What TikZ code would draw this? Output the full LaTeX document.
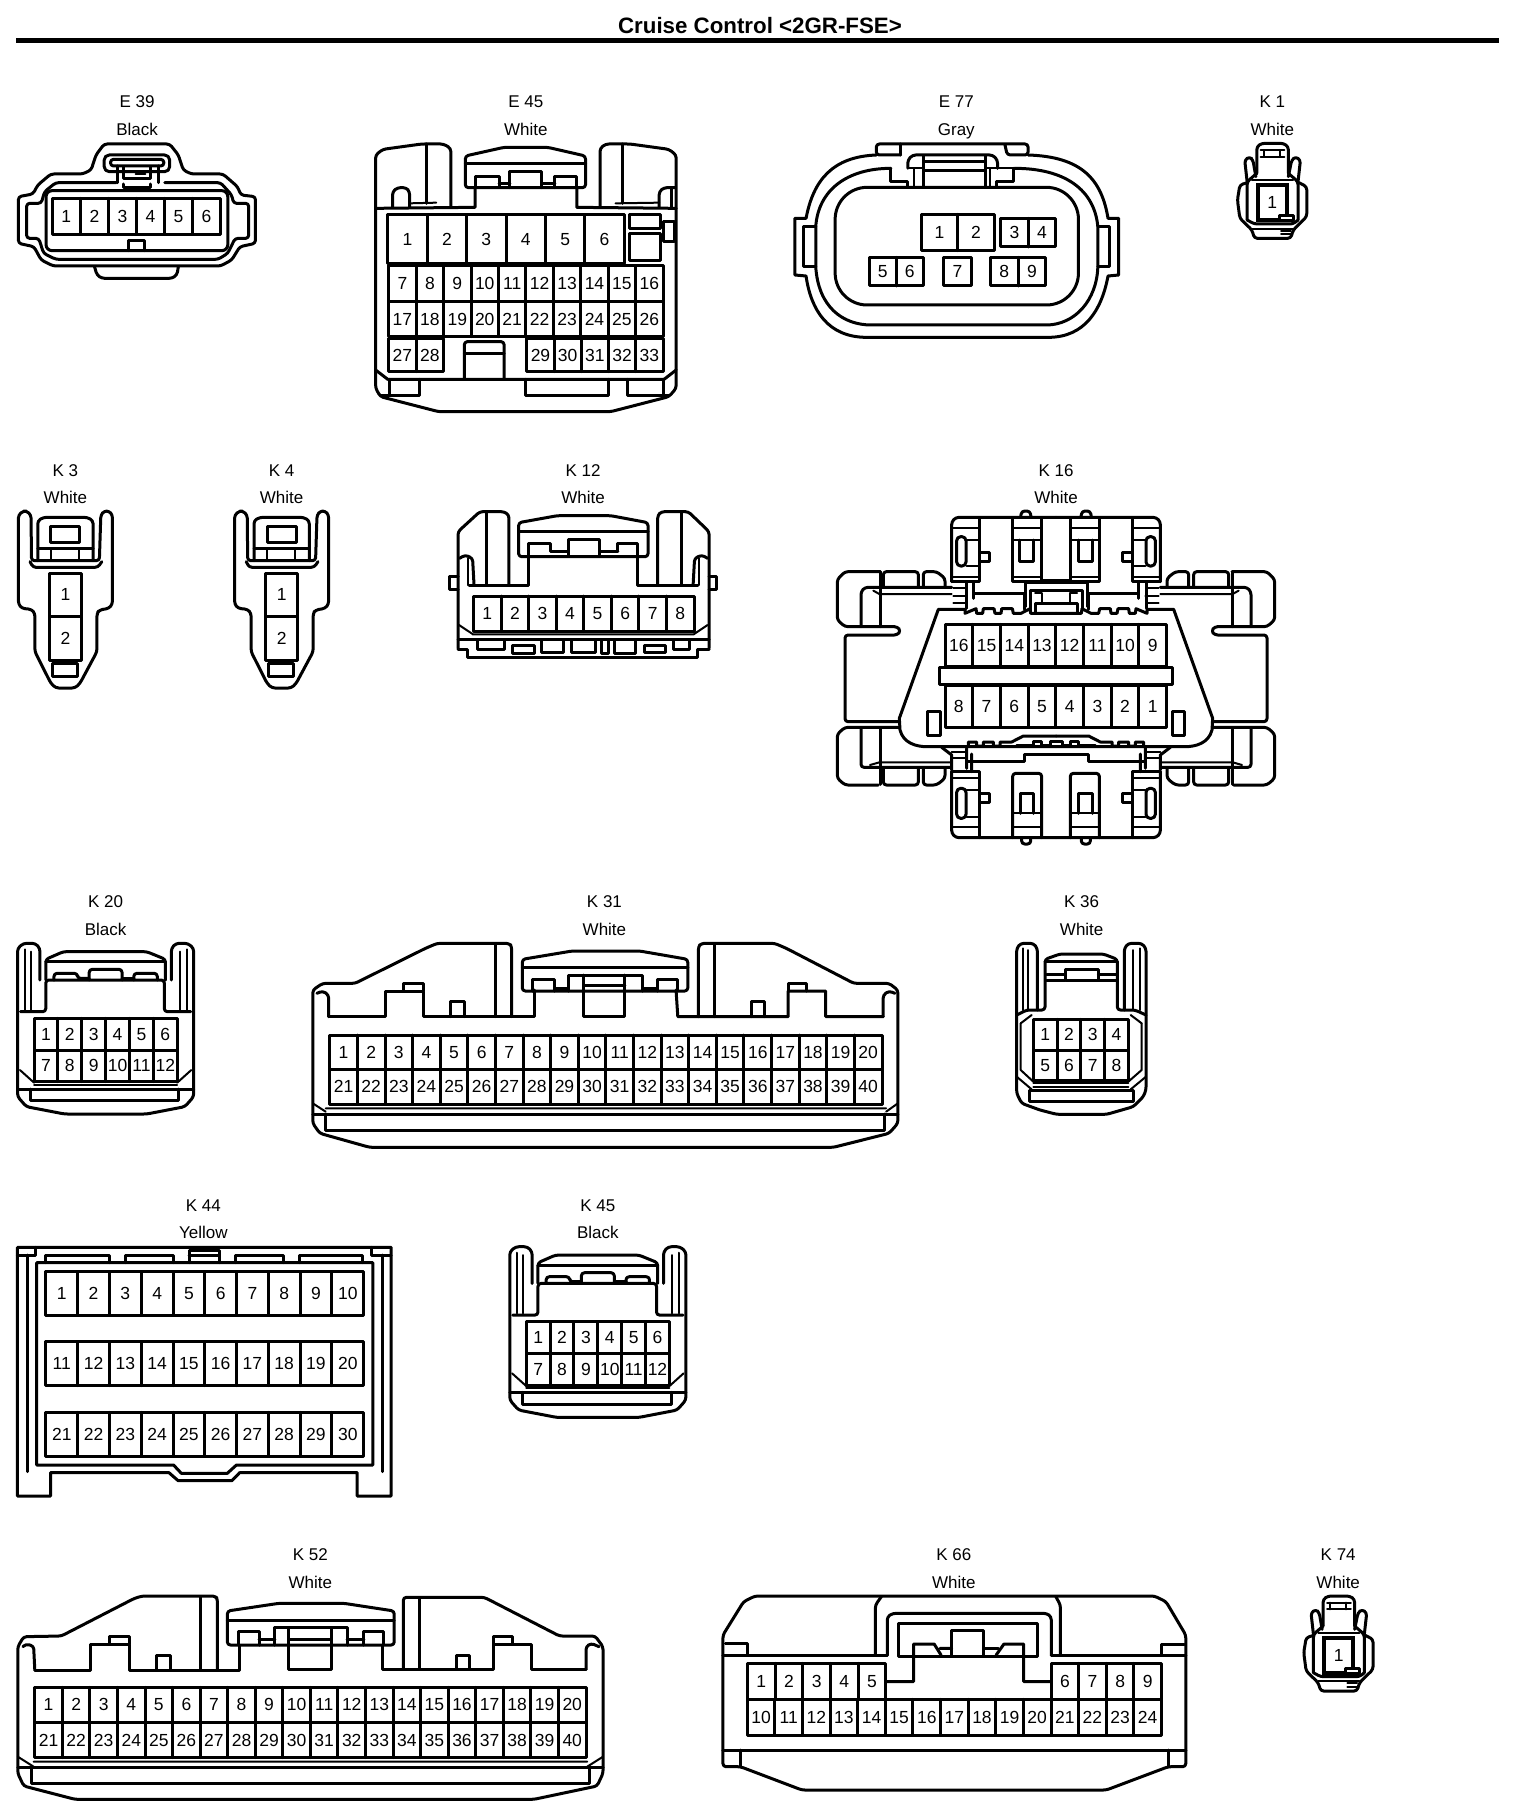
\documentclass[tikz,border=0pt]{standalone}
\usepackage{fontspec}
\setmainfont{Liberation Sans}
\tikzset{
  zv/.style n args={3}{x=#1pt,y=-0.33333pt,shift={(#2pt,-#3pt)}},
  cl/.style={line width=3pt,line join=round,line cap=round},
  thn/.style={line width=2pt,line join=round,line cap=round},
  rc/.style={cl,rounded corners=3pt},
  pinnum/.style={font=\fontsize{17.5}{18}\selectfont,inner sep=0pt},
  lab/.style={font=\fontsize{17}{18}\selectfont,inner sep=0pt,anchor=base,yshift=-6pt}
}
\newcommand{\pinrow}[8]{%
  \draw[cl] (#2,#4) rectangle (#3,#5);
  \foreach \i in {1,...,#6}{%
    \pgfmathsetmacro\pxa{#2+(#3-#2)/#6*(\i-1)}%
    \pgfmathsetmacro\pxb{#2+(#3-#2)/#6*\i}%
    \pgfmathsetmacro\pxc{(\pxa+\pxb)/2}%
    \pgfmathsetmacro\pyc{(#4+#5)/2}%
    \pgfmathtruncatemacro\pnum{#7+(\i-1)*(#8)}%
    \ifnum\i<#6 \draw[cl] (\pxb,#4) -- (\pxb,#5);\fi
    \node[pinnum] (#1-\pnum) at (\pxc,\pyc) {\pnum};
  }}
\newcommand{\cnlabel}[5]{%
  \node[lab] (#1-code) at (#2,#3) {#4};
  \node[lab] (#1-colour) at (#2,#3+83) {#5};}
% K1 / K74 body (zoom 2 units)
\newcommand{\koneshape}[1]{%
  \draw[rc] (1025,520)--(1025,440)--(1035,430)--(1080,430)--(1090,440)--(1090,520);
  \draw[thn] (1033,450)--(1082,450) (1033,470)--(1082,470) (1040,450)--(1040,470) (1073,450)--(1073,470);
  \draw[rc] (1025,520)--(1005,545)--(1005,660);
  \draw[rc] (1090,520)--(1110,545)--(1110,660);
  \draw[rc] (1005,545)--(1000,480)--(1010,470)--(1017,480)--(1023,530);
  \draw[rc] (1110,545)--(1115,480)--(1105,470)--(1097,480)--(1090,530);
  \draw[rc] (1005,548)--(990,555)--(985,600)--(990,655)--(1015,690)--(1020,715)--(1095,715)--(1100,690)--(1128,650)--(1128,560)--(1112,548);
  \draw[rc] (1005,660)--(1020,672)--(1100,672)--(1110,660);
  \draw[thn] (1015,540)--(1100,540);
  \pinrow{#1}{1027}{1087}{555}{660}{1}{1}{1}
  \draw[line width=3.6pt] (1027,555) rectangle (1087,660);
  \draw[cl,fill=white] (1072,648) rectangle (1100,662);
  \draw[thn] (1015,686)--(1100,686) (1075,692)--(1095,692) (1075,703)--(1095,703);
}
% K3 / K4 body (zoom 3 units)
\newcommand{\kthreeshape}[1]{%
  \draw[rc] (38,195)--(48,183)--(55,183)--(64,195)--(65,332)--(205,332)--(208,195)--(215,183)--(225,183)--(232,195)--(232,462)--(225,475)--(205,480)--(200,490)--(200,605)--(165,700)--(155,714)--(115,714)--(105,700)--(72,605)--(72,490)--(65,478)--(45,475)--(38,462)--cycle;
  \draw[rc] (62,335)--(68,352)--(202,352)--(210,335);
  \draw[rc] (78,332)--(78,212)--(90,202)--(180,202)--(192,212)--(192,332);
  \draw[cl] (78,295)--(192,295);
  \draw[thn] (105,300)--(105,330) (163,300)--(163,330);
  \draw[cl] (105,228) rectangle (165,278);
  \pinrow{#1}{102}{168}{370}{498}{1}{1}{1}
  \pinrow{#1}{102}{168}{498}{630}{1}{2}{1}
  \draw[cl] (108,640) rectangle (160,678);
}
% K20 / K45 body (zoom 5 units)
\newcommand{\ktwentyshape}[1]{%
  \draw[rc] (68,270)--(68,175)--(60,160)--(40,160)--(30,175)--(30,620)--(45,650)--(110,672)--(250,672)--(315,650)--(330,620)--(330,175)--(320,160)--(300,160)--(292,175)--(292,270);
  \draw[thn] (42,178)--(42,360) (52,185)--(52,360) (318,178)--(318,360) (306,185)--(306,360);
  \draw[rc] (35,365)--(78,365)--(78,270)--(280,270)--(280,365)--(325,365);
  \draw[rc] (78,270)--(78,208)--(108,185)--(250,185)--(282,208)--(282,270);
  \draw[cl] (78,215)--(282,215);
  \draw[rc] (92,270)--(92,250)--(132,250)--(132,265)--(152,265);
  \draw[rc] (152,270)--(152,238)--(208,238)--(208,270);
  \draw[rc] (208,265)--(228,265);
  \draw[rc] (228,270)--(228,250)--(268,250)--(268,270);
  \pinrow{#1}{58}{302}{385}{480}{6}{1}{1}
  \pinrow{#1}{58}{302}{480}{575}{6}{7}{1}
  \draw[thn] (34,540)--(58,578) (326,540)--(302,578);
  \draw[thn] (58,584)--(302,584);
  \draw[cl] (30,597)--(330,597);
  \draw[cl] (52,597)--(52,632)--(305,632)--(305,597);
}
% K16 left half (zoom 4 units)
\newcommand{\ksixteenhalf}{%
  \draw[rc] (180,365)--(75,365)--(52,388)--(52,510)--(75,530)--(232,530)--(242,543)--(232,555)--(75,555)--(75,815)--(238,815);
  \draw[cl] (180,365)--(180,530);
  \draw[rc] (190,408)--(190,365)--(295,365)--(295,408);
  \draw[rc] (310,408)--(310,365)--(350,365)--(375,385)--(375,408);
  \draw[rc] (123,530)--(123,425)--(135,412)--(395,412);
  \draw[thn] (160,422)--(178,432)--(395,432);
  \draw[rc] (238,832)--(75,832)--(52,852)--(52,985)--(75,1005)--(175,1005);
  \draw[cl] (180,835)--(180,1003);
  \draw[rc] (190,955)--(190,1005)--(295,1005)--(295,955);
  \draw[rc] (310,955)--(310,1005)--(350,1005)--(375,985)--(375,955);
  \draw[rc] (123,835)--(123,952)--(390,952);
  \draw[thn] (150,945)--(178,937)--(390,937);
  % upper clips
  \draw[rc] (395,395)--(395,215)--(408,202)--(708,202);
  \draw[cl] (478,205)--(478,395)--(395,395);
  \draw[thn] (400,235)--(475,235) (400,380)--(478,380) (440,270)--(478,270) (440,348)--(478,348);
  \draw[cl,rounded corners=4pt] (410,260) rectangle (438,348);
  \draw[cl] (478,308) rectangle (508,335);
  \draw[cl] (578,205)--(578,395)--(665,395)--(665,205);
  \draw[thn] (578,235)--(665,235) (578,270)--(665,270) (578,380)--(665,380);
  \draw[cl] (598,270)--(598,335)--(640,335)--(640,270);
  \draw[cl] (665,390)--(708,390);
  \draw[rc] (602,200)--(605,183)--(630,183)--(633,200);
  % junction
  \draw[thn] (400,415)--(438,415) (400,437)--(440,437) (400,460)--(438,460);
  \draw[cl] (438,397)--(438,475) (460,397)--(460,445);
  \draw[cl] (462,430)--(612,430)--(612,478) (615,397)--(615,470);
  \draw[thn] (615,400)--(708,400);
  \draw[cl] (630,480)--(630,420)--(708,420);
  \draw[thn] (645,430)--(665,430)--(665,460);
  \draw[cl] (645,490)--(645,460)--(708,460);
  % body
  \draw[cl] (708,490)--(632,490)--(630,476)--(603,490)--(580,490)--(577,476)--(545,476)--(543,490)--(525,490)--(522,476)--(490,476)--(488,490)--(470,490)--(468,476)--(435,490)--(435,478)--(355,478)--(238,805)--(240,840) .. controls (250,880) and (290,890) .. (320,890)--(708,890);
  \draw[cl] (445,888)--(445,876)--(470,876)--(470,888)--(490,888)--(490,876)--(520,876)--(520,888)--(540,888)--(540,876)--(575,876)--(610,858)--(708,858);
  \draw[cl] (590,885)--(640,885)--(640,875)--(665,875)--(665,885)--(690,885)--(690,875)--(708,875);
  % lower junction
  \draw[thn] (395,905)--(440,905) (400,925)--(440,925);
  \draw[cl] (440,895)--(440,955) (365,892)--(395,915)--(395,960) (455,912)--(455,965);
  \draw[cl] (440,935)--(612,935)--(612,912)--(708,912);
  % lower clips
  \draw[rc] (395,965)--(395,1150)--(408,1163)--(708,1163);
  \draw[cl] (395,965)--(478,965)--(478,1163);
  \draw[thn] (400,985)--(475,985) (400,1130)--(478,1130) (440,1020)--(478,1020) (440,1100)--(478,1100);
  \draw[cl,rounded corners=4pt] (410,1015) rectangle (438,1105);
  \draw[cl] (478,1030) rectangle (508,1057);
  \draw[rc] (578,1163)--(578,970)--(665,970)--(665,1163);
  \draw[thn] (578,1090)--(665,1090) (578,1130)--(665,1130);
  \draw[cl] (600,1090)--(600,1030)--(640,1030)--(640,1090);
  \draw[rc] (605,1165)--(605,1182)--(632,1182)--(632,1165);
  \draw[cl] (322,785) rectangle (360,855);
}
\begin{document}
\begin{tikzpicture}[x=1pt,y=1pt]
\useasboundingbox (0,0) rectangle (1520,-1820);
\fill[white] (0,0) rectangle (1520,-1820);
\node[font=\fontsize{22.3}{23}\selectfont\bfseries,inner sep=0pt,anchor=base] (title) at (760,-33.3) {Cruise Control <2GR-FSE>};
\coordinate (ruleL) at (16,-40);
\coordinate (ruleR) at (1499,-40);
\draw[line width=5pt] (ruleL) -- (ruleR);

% ---------- E39 ----------
\begin{scope}[zv={.4847}{0}{0}]
\cnlabel{e39}{283}{305}{E 39}{Black}
\draw[rc] (215,432)--(350,432)--(368,465)--(378,510)--(395,522)--(460,522)--(490,560)--(497,585)--(527,590)--(527,730)--(495,740)--(478,780)--(455,798)--(110,798)--(85,780)--(70,740)--(38,730)--(38,590)--(68,582)--(78,555)--(105,522)--(170,522)--(188,510)--(198,465)--cycle;
\draw[rc] (340,548)--(455,548)--(478,585)--(482,610)--(513,610)--(513,715)--(485,715)--(470,760)--(450,778)--(115,778)--(90,760)--(80,715)--(55,715)--(55,610)--(85,610)--(92,575)--(115,548)--(240,548);
\draw[cl,rounded corners=6pt] (95,572) rectangle (470,752);
\pinrow{e39}{108}{455}{595}{703}{6}{1}{1}
\draw[cl] (265,752)--(265,722)--(298,722)--(298,752);
\draw[rc] (195,800)--(200,825)--(210,835)--(355,835)--(365,825)--(368,800);
\draw[cl,rounded corners=5pt] (215,465) rectangle (350,515);
\draw[cl,rounded corners=3pt] (228,478) rectangle (338,498);
\draw[cl] (243,498)--(243,548) (328,498)--(328,548);
\draw[cl] (255,500)--(255,535)--(310,535)--(310,500);
\draw[thn] (280,522)--(300,522);
\draw[cl] (255,552)--(255,562)--(310,562)--(310,552);

% ---------- E45 ----------
\cnlabel{e45}{1085}{305}{E 45}{White}
\draw[rc] (930,622)--(930,445)--(915,432)--(870,432)--(790,448)--(775,465)--(775,1165)--(785,1190)--(905,1235)--(1260,1235)--(1380,1190)--(1395,1165)--(1395,465)--(1380,448)--(1300,432)--(1250,432)--(1238,445)--(1238,622);
\draw[cl] (775,625)--(980,622)--(980,565) (1190,565)--(1190,622)--(1395,625);
\draw[cl] (880,432)--(880,610) (1285,432)--(1285,610);
\draw[rc] (960,563)--(960,468)--(1040,442)--(1130,442)--(1208,468)--(1208,563)--(1190,563)--(980,563)--cycle;
\draw[cl] (960,490)--(1208,490);
\draw[cl] (980,563)--(980,530)--(1030,530)--(1030,560) (1030,552)--(1052,552);
\draw[cl] (1052,563)--(1052,515)--(1118,515)--(1118,563) (1118,552)--(1145,552);
\draw[cl] (1145,563)--(1145,530)--(1190,530)--(1190,563);
\draw[rc] (810,622)--(810,575)--(820,563)--(838,563)--(845,575)--(845,622);
\draw[thn] (845,610)--(900,608) (1270,610)--(1360,608);
\draw[rc] (1360,622)--(1360,575)--(1370,563)--(1392,563);
\draw[cl] (1385,565)--(1385,622);
\pinrow{e45a}{800}{1288}{645}{790}{6}{1}{1}
\draw[cl] (1298,645) rectangle (1362,685);
\draw[cl] (1298,700) rectangle (1362,783);
\draw[cl] (1368,665) rectangle (1392,725);
\pinrow{e45b}{802}{1368}{797}{905}{10}{7}{1}
\pinrow{e45c}{802}{1368}{905}{1010}{10}{17}{1}
\pinrow{e45d}{802}{915}{1015}{1115}{2}{27}{1}
\pinrow{e45e}{1087}{1368}{1015}{1115}{5}{29}{1}
\draw[rc] (958,1135)--(958,1025)--(1040,1025)--(1040,1135);
\draw[cl] (958,1060)--(1040,1060);
\draw[cl] (775,1110)--(800,1138)--(1370,1138)--(1395,1110);
\draw[cl] (866,1138)--(866,1187)--(785,1187) (803,1138)--(803,1187);
\draw[cl] (1295,1138)--(1295,1187)--(1380,1187) (1368,1138)--(1368,1187);
\draw[cl] (1085,1138)--(1085,1187)--(1255,1187)--(1255,1138);
\end{scope}

% ---------- E77 ----------
\begin{scope}[zv={.4847}{760}{0}]
\cnlabel{e77}{405}{305}{E 77}{Gray}
\draw[rc] (290,465)--(240,465)--(240,432)--(553,432)--(553,465)--(510,465)--(505,432);
\draw[cl] (290,432)--(290,465);
\draw[cl] (240,465) .. controls (150,470) and (110,540) .. (95,655) -- (72,655) -- (72,825) -- (95,828) .. controls (105,930) and (140,1012) .. (220,1012) -- (595,1012) .. controls (670,1012) and (705,930) .. (718,828) -- (740,825) -- (740,655) -- (718,655) .. controls (705,540) and (665,470) .. (553,465);
\draw[cl] (270,505) .. controls (180,505) and (120,570) .. (115,680) -- (115,800) .. controls (120,920) and (170,975) .. (230,975) -- (590,975) .. controls (650,975) and (695,900) .. (697,800) -- (697,680) .. controls (690,570) and (630,505) .. (525,505);
\draw[cl] (115,680)--(90,680)--(90,800)--(115,800);
\draw[cl] (697,680)--(722,680)--(722,800)--(697,800);
\draw[cl,rounded corners=32pt] (155,562) rectangle (657,915);
\draw[rc] (305,505)--(305,480)--(315,465)--(480,465)--(490,480)--(490,505);
\draw[cl] (338,468)--(338,560) (465,468)--(465,560) (338,485)--(465,485);
\draw[cl] (338,512)--(465,512);
\draw[cl] (270,505)--(270,545)--(305,545)--(305,560) (522,505)--(522,545)--(488,545)--(488,560);
\draw[thn] (318,505)--(318,560) (475,505)--(475,560) (305,505)--(338,505) (465,505)--(522,505);
\pinrow{e77a}{333}{483}{643}{752}{2}{1}{1}
\pinrow{e77b}{497}{610}{655}{741}{2}{3}{1}
\pinrow{e77c}{225}{337}{772}{858}{2}{5}{1}
\pinrow{e77d}{378}{437}{772}{858}{1}{7}{1}
\pinrow{e77e}{475}{590}{772}{858}{2}{8}{1}
% ---------- K1 ----------
\cnlabel{k1}{1057}{305}{K 1}{White}
\koneshape{k1pin}
\end{scope}

% ---------- K3, K4, K12 ----------
\begin{scope}[zv={.4847}{0}{450}]
\cnlabel{k3}{135}{60}{K 3}{White}
\kthreeshape{k3pin}
\end{scope}
\begin{scope}[zv={.4847}{216.2}{450}]
\cnlabel{k4}{135}{60}{K 4}{White}
\kthreeshape{k4pin}
\end{scope}
\begin{scope}[zv={.4847}{0}{450}]
\cnlabel{k12}{1203}{60}{K 12}{White}
\draw[rc] (945,595)--(945,245)--(990,185)--(1040,185)--(1050,195)--(1050,405);
\draw[rc] (1463,595)--(1463,245)--(1420,185)--(1365,185)--(1357,195)--(1357,405);
\draw[cl] (1003,185)--(1003,405) (1405,185)--(1405,405);
\draw[cl] (968,405)--(1090,405)--(1090,320) (1315,320)--(1315,405)--(1440,405);
\draw[rc] (1070,320)--(1070,218)--(1150,197)--(1260,197)--(1337,218)--(1337,320)--cycle;
\draw[cl] (1070,245)--(1337,245);
\draw[cl] (1090,320)--(1090,280)--(1135,280)--(1135,303)--(1172,303);
\draw[cl] (1172,315)--(1172,268)--(1237,268)--(1237,315) (1237,303)--(1275,303);
\draw[cl] (1275,303)--(1275,280)--(1315,280)--(1315,320);
\draw[rc] (948,325)--(960,315)--(975,325)--(978,405);
\draw[rc] (1460,325)--(1448,315)--(1433,325)--(1430,405);
\draw[thn] (965,325)--(965,405) (1443,325)--(1443,405);
\draw[cl] (945,380)--(928,380)--(928,418)--(945,418) (1463,380)--(1478,380)--(1478,418)--(1463,418);
\pinrow{k12p}{977}{1432}{438}{545}{8}{1}{1}
\draw[thn] (947,525)--(975,552) (1460,525)--(1432,552) (975,553)--(1432,553);
\draw[cl] (945,568)--(1463,568);
\draw[cl] (945,597)--(965,597)--(965,623)--(1440,623)--(1440,597)--(1463,597);
\draw[cl] (985,570)--(985,597)--(1040,597)--(1040,570);
\draw[cl] (1057,585) rectangle (1102,610);
\draw[cl] (1117,570)--(1117,607)--(1163,607)--(1163,570);
\draw[cl] (1180,570)--(1180,607)--(1228,607)--(1228,570);
\draw[cl] (1240,570)--(1240,610)--(1255,610)--(1255,570);
\draw[cl] (1268,570)--(1268,610)--(1312,610)--(1312,570);
\draw[cl] (1330,587) rectangle (1372,608);
\draw[cl] (1390,570)--(1390,597)--(1422,597)--(1422,570);
\end{scope}

% ---------- K16 ----------
\begin{scope}[zv={.33333}{820}{450}]
\cnlabel{k16}{708}{60}{K 16}{White}
\ksixteenhalf
\begin{scope}[shift={(1416,0)},xscale=-1]
\ksixteenhalf
\end{scope}
\draw[cl] (358,652) rectangle (1056,702);
\pinrow{k16a}{375}{1040}{523}{650}{8}{16}{-1}
\pinrow{k16b}{375}{1040}{705}{832}{8}{8}{-1}
\end{scope}

% ---------- K20, K31 ----------
\begin{scope}[zv={.58684}{0}{890}]
\cnlabel{k20}{180}{35}{K 20}{Black}
\ktwentyshape{k20p}
\cnlabel{k31}{1030}{35}{K 31}{White}
\draw[rc] (872,380)--(872,170)--(868,160)--(745,160)--(725,175)--(605,280)--(550,280)--(533,300)--(533,700)--(545,730)--(630,772)--(1420,772)--(1515,730)--(1530,700)--(1530,300)--(1515,280)--(1455,280)--(1340,175)--(1320,160)--(1195,160)--(1190,170)--(1190,380);
\draw[cl] (845,165)--(845,380) (1218,165)--(1218,380);
\draw[cl] (560,380)--(657,380)--(657,303)--(722,303)--(722,380)--(910,380)--(910,300);
\draw[cl] (1152,300)--(1155,380)--(1343,380)--(1343,303)--(1407,303)--(1407,380)--(1505,380);
\draw[rc] (540,310)--(550,303)--(560,315)--(560,380);
\draw[rc] (1505,380)--(1505,315)--(1515,303)--(1525,310);
\draw[cl] (688,303)--(688,280)--(722,280)--(722,303);
\draw[cl] (1343,303)--(1343,280)--(1375,280)--(1375,303);
\draw[cl] (768,380)--(768,333)--(792,333)--(792,380);
\draw[cl] (1280,380)--(1280,333)--(1302,333)--(1302,380);
\draw[rc] (890,303)--(890,208)--(975,183)--(1090,183)--(1172,208)--(1172,303)--cycle;
\draw[cl] (890,232)--(1172,232);
\draw[cl] (908,303)--(908,268)--(945,268)--(945,303) (945,295)--(968,295);
\draw[cl] (968,303)--(968,255)--(1095,255)--(1095,303);
\draw[cl] (995,255)--(995,380)--(1065,380)--(1065,255) (995,285)--(1065,285);
\draw[cl] (1095,295)--(1120,295) (1120,303)--(1120,268)--(1155,268)--(1155,303);
\pinrow{k31a}{562}{1503}{435}{538}{20}{1}{1}
\pinrow{k31b}{562}{1503}{538}{643}{20}{21}{1}
\draw[thn] (533,640)--(555,665) (1530,640)--(1510,665) (555,655)--(1510,655);
\draw[cl] (533,672)--(1530,672);
\draw[cl] (555,672)--(555,722)--(1508,722)--(1508,672);
\end{scope}

% ---------- K36 ----------
\begin{scope}[zv={.33333}{1000}{880}]
\cnlabel{k36}{245}{65}{K 36}{White}
\draw[rc] (112,390)--(112,205)--(100,190)--(62,190)--(50,205)--(50,640)--(65,670)--(120,690)--(170,703)--(320,703)--(400,680)--(430,650)--(438,630)--(438,205)--(425,190)--(385,190)--(373,205)--(373,390);
\draw[thn] (68,205)--(68,390) (85,210)--(85,390) (400,210)--(400,390) (420,205)--(420,390);
\draw[rc] (50,405)--(80,390)--(135,390)--(135,238)--(180,222)--(310,222)--(352,238)--(352,390)--(405,390)--(438,405);
\draw[cl] (135,245)--(352,245);
\draw[cl] (140,282)--(195,282) (140,300)--(195,300) (295,282)--(352,282) (295,300)--(352,300);
\draw[cl] (195,268) rectangle (295,300);
\draw[thn] (62,430)--(62,570)--(100,605) (425,430)--(425,570)--(385,605);
\draw[thn] (62,430)--(95,405) (425,430)--(392,405);
\draw[thn] (50,590)--(95,628) (438,590)--(392,628);
\pinrow{k36a}{100}{385}{418}{510}{4}{1}{1}
\pinrow{k36b}{100}{385}{510}{602}{4}{5}{1}
\draw[thn] (100,610)--(385,610) (100,621)--(385,621);
\draw[cl] (88,632) rectangle (400,665);
\end{scope}

% ---------- K44 ----------
\begin{scope}[zv={.45914}{0}{1190}]
\cnlabel{k44}{443}{45}{K 44}{Yellow}
\draw[cl] (368,848)--(110,848)--(110,918)--(38,918)--(38,172)--(852,172)--(852,918)--(778,918)--(778,848)--(522,848)--(505,872)--(388,872)--cycle;
\draw[cl] (60,195)--(60,845) (832,195)--(832,845);
\draw[cl] (38,195)--(78,195)--(78,172) (852,195)--(810,195)--(810,172);
\draw[cl] (100,218)--(100,197)--(238,197)--(238,218);
\draw[cl] (273,218)--(273,197)--(378,197)--(378,218);
\draw[cl] (412,218)--(412,180)--(478,180)--(478,218) (412,197)--(478,197);
\draw[cl] (512,218)--(512,197)--(617,197)--(617,218);
\draw[cl] (652,218)--(652,197)--(790,197)--(790,218);
\draw[cl] (80,218)--(812,218)--(812,825)--(515,825)--(495,850)--(395,850)--(378,825)--(80,825)--cycle;
\pinrow{k44a}{100}{792}{245}{375}{10}{1}{1}
\pinrow{k44b}{100}{792}{455}{587}{10}{11}{1}
\pinrow{k44c}{100}{792}{667}{798}{10}{21}{1}
\end{scope}

% ---------- K45 ----------
\begin{scope}[zv={.58684}{492.2}{1193.4}]
\cnlabel{k45}{180}{35}{K 45}{Black}
\ktwentyshape{k45p}
\end{scope}

% ---------- K52 ----------
\begin{scope}[zv={.39541}{0}{1540}]
\cnlabel{k52}{785}{43}{K 52}{White}
\draw[rc] (550,390)--(550,178)--(545,168)--(360,168)--(340,175)--(155,288)--(60,290)--(45,320)--(45,700)--(60,738)--(190,778)--(1350,778)--(1510,738)--(1525,700)--(1525,320)--(1505,288)--(1415,288)--(1225,172)--(1020,172)--(1020,385);
\draw[cl] (508,170)--(508,390) (1062,175)--(1062,388);
\draw[cl] (88,390)--(228,390)--(228,312)--(328,312)--(328,390)--(605,390)--(605,315);
\draw[cl] (968,315)--(968,388)--(1248,388)--(1248,312)--(1343,312)--(1343,388)--(1482,388);
\draw[rc] (58,320)--(65,312)--(85,318)--(88,390);
\draw[rc] (1482,388)--(1482,320)--(1495,310)--(1515,320);
\draw[cl] (278,312)--(278,288)--(328,288)--(328,312);
\draw[cl] (1248,312)--(1248,288)--(1295,288)--(1295,312);
\draw[cl] (395,390)--(395,345)--(430,345)--(430,390);
\draw[cl] (1155,388)--(1155,345)--(1187,345)--(1187,388);
\draw[rc] (575,315)--(575,213)--(705,190)--(870,190)--(997,213)--(997,315)--cycle;
\draw[cl] (575,240)--(997,240);
\draw[cl] (603,315)--(603,273)--(655,273)--(655,315) (655,298)--(695,298);
\draw[cl] (695,315)--(695,263)--(878,263)--(878,315);
\draw[cl] (730,265)--(730,388)--(838,388)--(838,265) (730,298)--(838,298);
\draw[cl] (878,298)--(920,298) (920,315)--(920,273)--(970,273)--(970,315);
\pinrow{k52a}{88}{1482}{442}{547}{20}{1}{1}
\pinrow{k52b}{88}{1482}{547}{653}{20}{21}{1}
\draw[thn] (45,650)--(85,680) (1525,650)--(1485,680) (85,665)--(1485,665);
\draw[cl] (45,682)--(1525,682);
\draw[cl] (80,685)--(80,730)--(1490,730)--(1490,685);
\end{scope}

% ---------- K66 ----------
\begin{scope}[zv={.45914}{700}{1540}]
\cnlabel{k66}{553}{43}{K 66}{White}
\draw[rc] (50,285)--(95,185)--(120,168)--(990,168)--(1015,185)--(1058,285)--(1058,680)--(1020,680)--(885,750)--(222,750)--(88,680)--(50,680)--cycle;
\draw[cl] (50,345)--(408,345);
\draw[rc] (408,345)--(408,230)--(420,220)--(755,220)--(765,230)--(765,345);
\draw[cl] (765,345)--(1058,345);
\draw[rc] (382,345)--(382,195)--(395,170);
\draw[rc] (785,345)--(785,195)--(775,170);
\draw[cl] (433,348)--(433,250)--(735,250)--(735,348)--cycle;
\draw[cl] (405,425)--(465,425)--(465,312)--(510,312)--(525,345) (523,325)--(548,325);
\draw[cl] (548,345)--(548,272)--(618,272)--(618,345) (618,325)--(650,325);
\draw[cl] (645,345)--(662,312)--(705,312)--(705,425)--(765,425);
\draw[cl] (55,310)--(103,310)--(103,345) (1005,345)--(1005,312)--(1055,312);
\pinrow{k66a}{103}{405}{370}{478}{5}{1}{1}
\pinrow{k66b}{765}{1005}{370}{478}{4}{6}{1}
\pinrow{k66c}{103}{1005}{478}{585}{15}{10}{1}
\draw[cl] (50,630)--(1058,630) (88,630)--(88,680) (1020,630)--(1020,680);
\end{scope}

% ---------- K74 ----------
\begin{scope}[zv={.45914}{700}{1540}]
\cnlabel{k74}{1390}{43}{K 74}{White}
\end{scope}
\begin{scope}[zv={.4847}{826.3}{1452.7}]
\koneshape{k74pin}
\end{scope}
\end{tikzpicture}
\end{document}
